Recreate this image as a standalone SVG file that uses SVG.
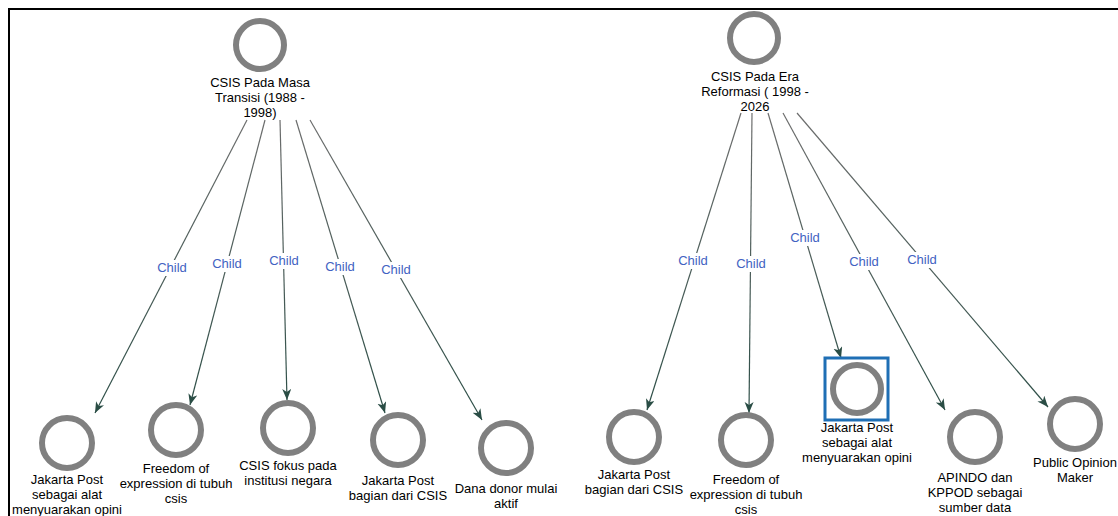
<svg xmlns="http://www.w3.org/2000/svg" width="1118" height="516" viewBox="0 0 1118 516">
<style>
.ring{fill:none;stroke:#808080;stroke-width:6}
.lbl{font-family:"Liberation Sans",Arial,sans-serif;font-size:13px;fill:#000;text-anchor:middle}
.edge{fill:none;stroke:url(#eg);stroke-width:1.2;marker-end:url(#arr)}
.cl{font-family:"Liberation Sans",Arial,sans-serif;font-size:13px;fill:#4262c2;text-anchor:middle}
.bg{fill:#fff}
</style>
<defs>
<linearGradient id="eg" gradientUnits="userSpaceOnUse" x1="0" y1="110" x2="0" y2="420">
<stop offset="0" stop-color="#6e6e6e"/>
<stop offset="1" stop-color="#2a4d45"/>
</linearGradient>
<marker id="arr" markerUnits="userSpaceOnUse" markerWidth="12" markerHeight="10" refX="11" refY="4.5" orient="auto">
<path d="M0,0 L11,4.5 L0,9 L3,4.5 z" fill="#2a4d45"/>
</marker>
</defs>
<rect x="9" y="9" width="1120" height="520" fill="#fff" stroke="#000" stroke-width="2"/>
<g id="connectors">
<line class="edge" x1="247" y1="120" x2="95" y2="413"/>
<line class="edge" x1="265" y1="120" x2="190" y2="405"/>
<line class="edge" x1="280" y1="120" x2="287" y2="400"/>
<line class="edge" x1="296" y1="120" x2="385" y2="413"/>
<line class="edge" x1="310" y1="120" x2="482" y2="420"/>
<line class="edge" x1="741" y1="113" x2="647" y2="410"/>
<line class="edge" x1="752" y1="113" x2="749" y2="413"/>
<line class="edge" x1="768" y1="113" x2="841" y2="358"/>
<line class="edge" x1="783" y1="113" x2="945" y2="410"/>
<line class="edge" x1="797" y1="113" x2="1048" y2="407"/>
<rect class="bg" x="155" y="260" width="34" height="16"/><text class="cl" x="172" y="272">Child</text>
<rect class="bg" x="210" y="256" width="34" height="16"/><text class="cl" x="227" y="268">Child</text>
<rect class="bg" x="267" y="253" width="34" height="16"/><text class="cl" x="284" y="265">Child</text>
<rect class="bg" x="323" y="259" width="34" height="16"/><text class="cl" x="340" y="271">Child</text>
<rect class="bg" x="379" y="262" width="34" height="16"/><text class="cl" x="396" y="274">Child</text>
<rect class="bg" x="676" y="253" width="34" height="16"/><text class="cl" x="693" y="265">Child</text>
<rect class="bg" x="734" y="256" width="34" height="16"/><text class="cl" x="751" y="268">Child</text>
<rect class="bg" x="788" y="230" width="34" height="16"/><text class="cl" x="805" y="242">Child</text>
<rect class="bg" x="847" y="254" width="34" height="16"/><text class="cl" x="864" y="266">Child</text>
<rect class="bg" x="905" y="252" width="34" height="16"/><text class="cl" x="922" y="264">Child</text>
</g>
<g id="n-transisi">
<circle class="ring" cx="260" cy="45" r="24"/>
<text class="lbl" x="260" y="87">CSIS Pada Masa</text>
<text class="lbl" x="260" y="102">Transisi (1988 -</text>
<text class="lbl" x="260" y="117">1998)</text>
</g>
<g id="n-reformasi">
<circle class="ring" cx="754" cy="38" r="24"/>
<text class="lbl" x="755" y="81">CSIS Pada Era</text>
<text class="lbl" x="755" y="96">Reformasi ( 1998 -</text>
<text class="lbl" x="755" y="111">2026</text>
</g>
<g id="n-l1">
<circle class="ring" cx="67" cy="443" r="25"/>
<text class="lbl" x="67" y="484">Jakarta Post</text>
<text class="lbl" x="67" y="499">sebagai alat</text>
<text class="lbl" x="67" y="514">menyuarakan opini</text>
</g>
<g id="n-l2">
<circle class="ring" cx="176" cy="430" r="25"/>
<text class="lbl" x="176" y="473">Freedom of</text>
<text class="lbl" x="176" y="488">expression di tubuh</text>
<text class="lbl" x="176" y="503">csis</text>
</g>
<g id="n-l3">
<circle class="ring" cx="288" cy="428" r="25"/>
<text class="lbl" x="288" y="470">CSIS fokus pada</text>
<text class="lbl" x="288" y="485">institusi negara</text>
</g>
<g id="n-l4">
<circle class="ring" cx="398" cy="440" r="25"/>
<text class="lbl" x="398" y="485">Jakarta Post</text>
<text class="lbl" x="398" y="500">bagian dari CSIS</text>
</g>
<g id="n-l5">
<circle class="ring" cx="506" cy="448" r="25"/>
<text class="lbl" x="506" y="493">Dana donor mulai</text>
<text class="lbl" x="506" y="508">aktif</text>
</g>
<g id="n-r1">
<circle class="ring" cx="634" cy="437" r="25"/>
<text class="lbl" x="634" y="479">Jakarta Post</text>
<text class="lbl" x="634" y="494">bagian dari CSIS</text>
</g>
<g id="n-r2">
<circle class="ring" cx="746" cy="440" r="25"/>
<text class="lbl" x="746" y="484">Freedom of</text>
<text class="lbl" x="746" y="499">expression di tubuh</text>
<text class="lbl" x="746" y="514">csis</text>
</g>
<g id="n-r3">
<rect x="825" y="358" width="63" height="62" fill="none" stroke="#1f6fb5" stroke-width="3"/>
<circle class="ring" cx="857" cy="389" r="24"/>
<text class="lbl" x="857" y="432">Jakarta Post</text>
<text class="lbl" x="857" y="447">sebagai alat</text>
<text class="lbl" x="857" y="462">menyuarakan opini</text>
</g>
<g id="n-r4">
<circle class="ring" cx="975" cy="437" r="25"/>
<text class="lbl" x="975" y="482">APINDO dan</text>
<text class="lbl" x="975" y="497">KPPOD sebagai</text>
<text class="lbl" x="975" y="512">sumber data</text>
</g>
<g id="n-r5">
<circle class="ring" cx="1075" cy="424" r="25"/>
<text class="lbl" x="1075" y="467">Public Opinion</text>
<text class="lbl" x="1075" y="482">Maker</text>
</g>
</svg>
